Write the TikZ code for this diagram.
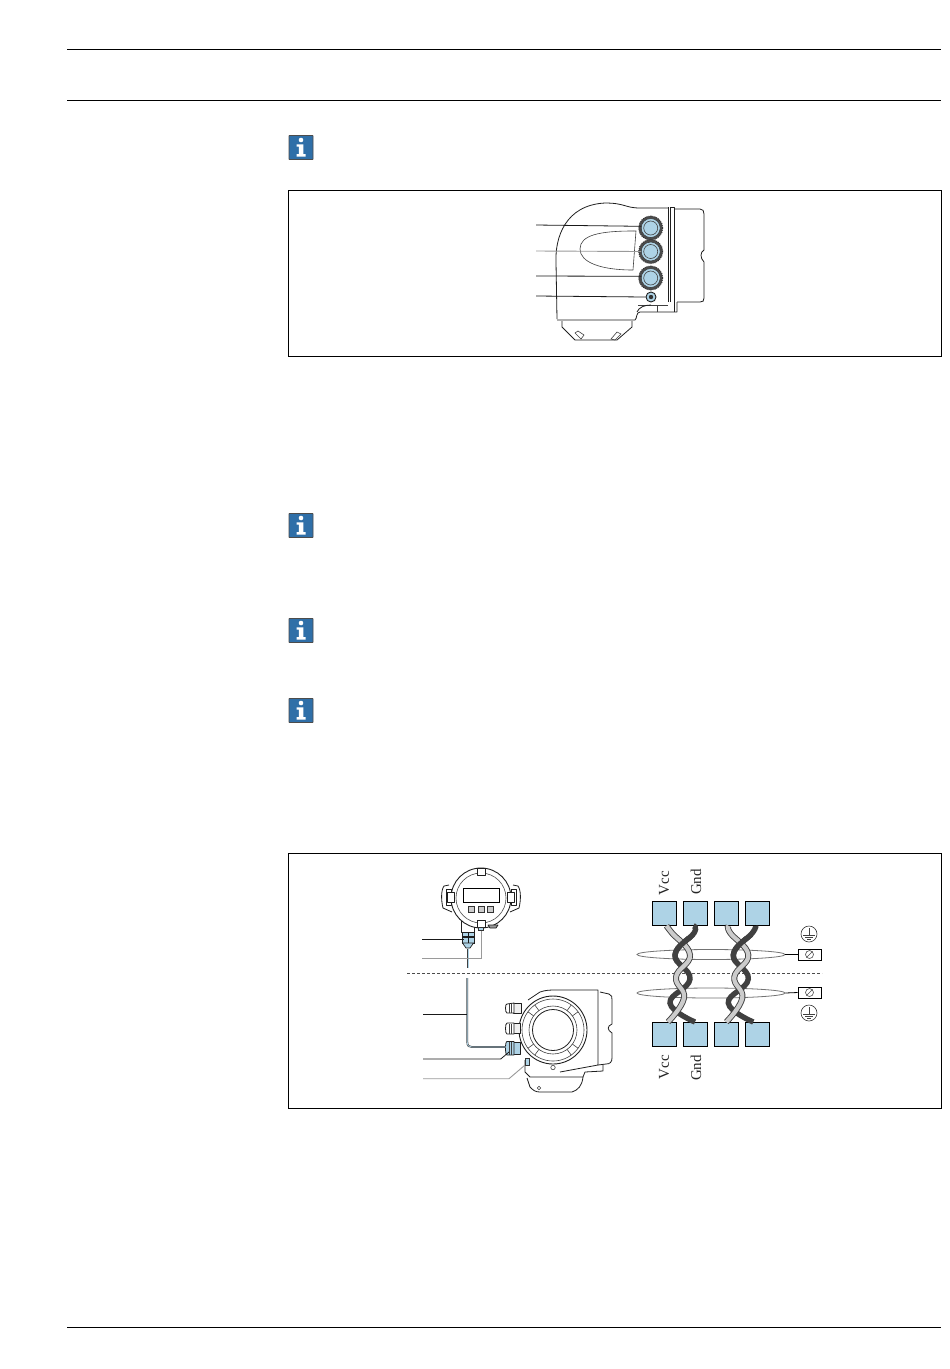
\documentclass[tikz,border=0pt]{standalone}
\usepackage{fontspec}
\setmainfont{Liberation Serif}
\usetikzlibrary{shapes.geometric,calc}
\definecolor{termblue}{HTML}{AED3E6}
\definecolor{iconblue}{HTML}{2F6FA8}
\definecolor{gl}{HTML}{9A9A9A}
\tikzset{
  rule/.style={line width=0.9pt,black},
  frame/.style={draw=black,line width=0.7pt,fill=white},
  part/.style={draw=black!88,line width=0.8pt,line join=round},
  thin part/.style={draw=black!75,line width=0.6pt},
  leader/.style={draw=black!90,line width=0.8pt},
  leadergray/.style={draw=gl,line width=0.9pt},
  blue part/.style={draw=black!88,fill=termblue,line width=0.7pt},
  terminal/.style={draw=black,fill=termblue,line width=1pt,minimum width=24pt,minimum height=24pt,inner sep=0pt},
  glandouter/.style={circle,draw=black!80,densely dotted,line width=1pt,fill=black!70,minimum size=24pt,inner sep=0pt},
  glandinner/.style={circle,draw=black!80,fill=termblue,line width=0.5pt,minimum size=19pt,inner sep=0pt},
  glandcore/.style={circle,draw=black!75,line width=0.6pt,minimum size=14pt,inner sep=0pt},
  darkwire/.style={draw=black!75,line width=5.4pt,line cap=butt},
  lightouter/.style={draw=black!75,line width=6pt},
  lightinner/.style={draw=black!20,line width=4.2pt},
  sig/.style={font=\fontsize{15}{15}\selectfont,text=black!85,rotate=90,inner sep=0pt},
  clamp/.style={draw=black,fill=white,line width=0.8pt,minimum width=23pt,minimum height=11pt,inner sep=0pt},
  earthring/.style={circle,draw=black!80,line width=0.6pt,minimum size=16pt,inner sep=0pt},
  shieldring/.style={ellipse,draw=black!55,line width=0.8pt,minimum width=148pt,minimum height=10pt,inner sep=0pt},
}
\newcommand{\infoicon}[2]{%
  \node[draw=black!70,fill=iconblue,line width=0.8pt,minimum size=24pt,inner sep=0pt,rounded corners=0.5pt] (#1) at (301,#2) {};
  \fill[white] (301,#2-7.5) circle (2.3);
  \fill[white] (296.5,#2-3.2) -- (303.3,#2-3.2) -- (303.3,#2+6.5) -- (305.5,#2+6.5) -- (305.5,#2+9) -- (296.5,#2+9) -- (296.5,#2+6.5) -- (298.9,#2+6.5) -- (298.9,#2-0.8) -- (296.5,#2-0.8) -- cycle;
}
\newcommand{\twistpair}[3]{%
  \draw[darkwire] plot[smooth,tension=0.75] coordinates {([xshift=-2pt]#2.south) (#3+694,933) (#3+675,955) (#3+690,979) (#3+670,1003) (#3+695,1022)};
  \draw[lightouter] plot[smooth,tension=0.75] coordinates {([xshift=2pt]#1.south) (#3+672,933) (#3+690,955) (#3+676,977) (#3+684,998) (#3+668,1022)};
  \draw[lightinner] plot[smooth,tension=0.75] coordinates {([xshift=2pt]#1.south) (#3+672,933) (#3+690,955) (#3+676,977) (#3+684,998) (#3+668,1022)};
  \begin{scope}
    \clip (#3+660,936) rectangle (#3+705,962);
    \draw[darkwire] plot[smooth,tension=0.75] coordinates {([xshift=-2pt]#2.south) (#3+694,933) (#3+675,955) (#3+690,979) (#3+670,1003) (#3+695,1022)};
  \end{scope}
}
\newcommand{\earthsym}[3]{%
  \node[earthring] (#1) at (#2,#3) {};
  \draw[thin part] (#2,#3-6) -- (#2,#3+1) (#2-6,#3+1) -- (#2+6,#3+1) (#2-4,#3+3.2) -- (#2+4,#3+3.2) (#2-2,#3+5.4) -- (#2+2,#3+5.4);
}
\begin{document}
\begin{tikzpicture}[x=1pt,y=-1pt]
\useasboundingbox (0,0) rectangle (950,1369);
\fill[white] (0,0) rectangle (950,1369);
% page rules
\coordinate (ra) at (67,49.5); \coordinate (rb) at (941,49.5);
\coordinate (rc) at (67,100); \coordinate (rd) at (941,100);
\coordinate (re) at (67,1327); \coordinate (rf) at (941,1327);
\draw[rule] (ra) -- (rb); \draw[rule] (rc) -- (rd); \draw[rule] (re) -- (rf);
% info icons
\infoicon{ia}{147.5}
\infoicon{ib}{525.5}
\infoicon{ic}{630.5}
\infoicon{id}{710.5}
% frames
\path[frame] (288.5,190.5) rectangle (941.5,356.5);
\path[frame] (288.5,853.5) rectangle (941.5,1108.5);

% ---------- upper figure ----------
\path[part] (557,319) -- (556,262) .. controls (555,238) and (565,205) .. (605,203) .. controls (625,203) and (625,208) .. (640,208) -- (668,208);
\path[part] (668,207) -- (668,302) (670,207) -- (670,302);
\path[part] (670,207) -- (674,207) -- (674,312);
\path[part] (675,209) -- (700,209) .. controls (703,209) and (704,211) .. (704,214) -- (704,250) .. controls (700,252) and (700,258) .. (704,262) -- (704,298) .. controls (704,301) and (703,302) .. (700,302) -- (677,302);
\path[part] (677,302) -- (677,312) -- (640,312) .. controls (636,312) and (637,319) .. (635,320) -- (557,320);
\path[thin part] (638,305) -- (668,305) (657,305) -- (657,312);
\path[part] (637,312) .. controls (639,307) and (645,305) .. (651,305);
\path[part] (562,321) -- (562,327) -- (575,340) -- (617,340) -- (632,327) -- (632,321);
\path[thin part] (575,333) -- (581,339) -- (584,335) -- (578,331) -- cycle (617,332) -- (611,339) -- (615,340) -- (621,334) -- cycle;
\path[thin part] (633,231) .. controls (600,231) and (580,235) .. (580,249) .. controls (580,262) and (600,270) .. (633,270);
\path[thin part] (633,231) -- (636,231) -- (633,270);
% glands
\node[glandouter] (g1o) at (650.7,228) {};
\node[glandinner] (g1) at (650.7,228) {};
\node[glandcore] at (650.7,228) {};
\node[glandouter] (g2o) at (650.7,251.5) {};
\node[glandinner] (g2) at (650.7,251.5) {};
\node[glandcore] at (650.7,251.5) {};
\node[glandouter] (g3o) at (650.7,278) {};
\node[glandinner] (g3) at (650.7,278) {};
\node[glandcore] at (650.7,278) {};
\node[blue part,circle,minimum size=10pt,inner sep=0pt,line width=0.9pt] (g4) at (651,297) {};
\fill[black!80] (651,297) circle (2.2);
\coordinate (la1) at (536,225); \coordinate (la2) at (536,251);
\coordinate (la3) at (536,276); \coordinate (la4) at (536,296);
\draw[leader] (la1) -- (g1.170);
\draw[leadergray] (la2) -- (g2.180);
\draw[leader] (la3) -- (g3.170);
\draw[leader] (la4) -- (g4.west);

% ---------- remote display ----------
\path[part] (449,885) -- (444,886) .. controls (441,890) and (441,900) .. (443,908) -- (452,912);
\path[part] (446,889) -- (451,889) -- (451,905) -- (446,905) -- cycle;
\path[part] (513,885) -- (518,886) .. controls (521,890) and (521,900) .. (519,908) -- (510,912);
\path[part] (516,889) -- (511,889) -- (511,905) -- (516,905) -- cycle;
\path[part] (461.5,921) -- (461.5,932) -- (474.5,932) -- (474.5,925);
\node[circle,draw=black!88,fill=white,line width=0.9pt,minimum size=60pt,inner sep=0pt] (disp) at (481,898) {};
\node[circle,draw=black!70,line width=0.6pt,minimum size=50pt,inner sep=0pt] (dispin) at (481,898) {};
\foreach \tx/\ty in {481/871.5}{\path[part,fill=white] (\tx-4,\ty-3.5) rectangle (\tx+4,\ty+3.5);}
\foreach \tx/\ty in {451/897,511/897}{\path[part,fill=white] (\tx-3.5,\ty-5) rectangle (\tx+3.5,\ty+5);}
\path[part,fill=white] (477,920) rectangle (485,927);
\node[draw=black,line width=0.9pt,fill=white,minimum width=36pt,minimum height=14pt,inner sep=0pt] (lcd) at (481,895) {};
\foreach \bx in {471.7,481,490.3}{\node[draw=black!80,fill=black!20,line width=0.5pt,minimum size=6pt,inner sep=0pt] at (\bx,909) {};}
\path[blue part] (462,932) rectangle (474,936) (462,937) rectangle (474,943);
\path[draw=black!90,line width=1pt] (468,932) -- (468,943);
\path[blue part] (462.5,943) -- (473.5,943) -- (470,948) -- (466,948) -- cycle;
\node[draw=black!80,fill=termblue,line width=0.5pt,minimum width=5pt,minimum height=3pt,inner sep=0pt] (tiny) at (481,929) {};
\path[part,fill=black!40] (488,925) -- (498,925) -- (496,928) -- (490,928) -- cycle;
\node[inner sep=0pt,minimum size=1pt] (caba) at (468.3,948) {};
\coordinate (cabb) at (468.3,968);
\draw[black!75,line width=1.8pt] (caba) -- (cabb);
\draw[termblue,line width=0.7pt] (caba) -- (cabb);
\coordinate (lb1) at (422,939); \coordinate (lb2) at (422,958.7); \coordinate (lb2k) at (481,958.7);
\node[inner sep=0pt,minimum size=1pt] (lb1e) at (465,939) {};
\draw[leader,line width=1pt] (lb1) -- (lb1e);
\draw[leadergray] (lb2) -- (lb2k) -- (tiny.south);

% dashed separator
\coordinate (sa) at (407,973); \coordinate (sb) at (822,973);
\draw[black!70,densely dashed,line width=0.6pt] (sa) -- (sb);

% ---------- transmitter ----------
\path[part] (528,1000) -- (540,992) .. controls (546,990) and (550,990) .. (556,990) -- (598,990) -- (598,1065) -- (560,1072);
\path[part] (600,992) -- (609,994) .. controls (612,995) and (612,997) .. (612,1000) -- (612,1024) .. controls (607,1026) and (607,1030) .. (612,1033) -- (612,1058) .. controls (612,1062) and (610,1064) .. (606,1064) -- (598,1065);
\path[part] (603,1065) -- (603,1071) -- (585,1072) -- (583,1077) -- (530,1077) -- (525,1072) -- (525,1060);
\path[part] (527,1078) -- (530,1087) .. controls (533,1090) and (535,1092) .. (540,1092) -- (572,1092) .. controls (578,1090) and (582,1086) .. (583,1077);
\draw[thin part] (539,1088) circle (1.8);
\draw[thin part] (553,1067.5) circle (2.2);
\node[circle,draw=black!88,fill=white,line width=0.9pt,minimum size=68pt,inner sep=0pt] (tr) at (553,1030) {};
\node[circle,draw=black!75,line width=0.6pt,minimum size=62pt,inner sep=0pt] at (553,1030) {};
\node[circle,draw=black!75,line width=0.6pt,minimum size=48pt,inner sep=0pt] at (553,1030) {};
\node[circle,draw=black!88,line width=0.8pt,minimum size=41pt,inner sep=0pt] at (553,1030) {};
\foreach \a in {45,135,225,315}{\path[thin part] ($(553,1030)+(\a-9:24)$) -- ($(553,1030)+(\a-9:31)$) ($(553,1030)+(\a+9:24)$) -- ($(553,1030)+(\a+9:31)$);}
% cable glands
\path[part,fill=black!6] (513,1003) rectangle (521,1013);
\path[part,fill=white] (507,1004) .. controls (505,1003) and (505,1013) .. (507,1013) -- (514,1013) -- (514,1003) -- cycle;
\path[part,fill=black!6] (513,1023) rectangle (520,1033);
\path[part,fill=white] (507,1023) .. controls (505,1023) and (505,1034) .. (507,1034) -- (514,1034) -- (514,1023) -- cycle;
\path[part,fill=termblue] (513,1042) rectangle (520,1054);
\path[part,fill=termblue] (507,1041.5) .. controls (505,1041) and (505,1055) .. (507,1055) -- (514,1055) -- (514,1041.5) -- cycle;
\foreach \rx in {509,511}{\path[thin part] (\rx,1004) -- (\rx,1013) (\rx,1023.5) -- (\rx,1034) (\rx,1042) -- (\rx,1055);}
\node[inner sep=0pt,minimum size=1pt] (gb) at (506.5,1047) {};
\node[draw=black!80,fill=termblue,line width=0.5pt,minimum width=4pt,minimum height=7pt,inner sep=0pt] (gr) at (527,1061.5) {};
\coordinate (cabc) at (467.3,978); \coordinate (cabk) at (467.3,1014);
\draw[black!75,line width=1.8pt,line join=round] (cabc) -- (467.3,1042) .. controls (467.3,1046) and (469,1047) .. (472,1047) -- (gb);
\draw[termblue,line width=0.7pt] (cabc) -- (467.3,1042) .. controls (467.3,1046) and (469,1047) .. (472,1047) -- (gb);
\coordinate (lc1) at (423,1014); \coordinate (lc2) at (423,1059); \coordinate (lc2k) at (500.7,1059); \coordinate (lc2e) at (509,1052);
\coordinate (lc3) at (423,1078.7); \coordinate (lc3k) at (509,1078.7);
\draw[leader] (lc1) -- (cabk);
\draw[leader] (lc2) -- (lc2k) -- (lc2e);
\draw[leadergray] (lc3) -- (lc3k) -- (gr.south west);

% ---------- wiring scheme ----------
\node[shieldring] (sh1) at (711,954.5) {};
\node[shieldring] (sh2) at (711,993) {};
\node[terminal] (t1) at (664.5,913.3) {};
\node[terminal] (t2) at (695.5,913.3) {};
\node[terminal] (t3) at (726.5,913.3) {};
\node[terminal] (t4) at (757.5,913.3) {};
\node[terminal] (t5) at (664.5,1034.3) {};
\node[terminal] (t6) at (695.5,1034.3) {};
\node[terminal] (t7) at (726.5,1034.3) {};
\node[terminal] (t8) at (757.5,1034.3) {};
\twistpair{t1}{t2}{0}
\twistpair{t3}{t4}{58.3}
\node[sig,anchor=center] (v1) at (664,883) {Vcc};
\node[sig,anchor=center] (g1t) at (696,882) {Gnd};
\node[sig,anchor=center] (v2) at (664,1067) {Vcc};
\node[sig,anchor=center] (g2t) at (696,1068) {Gnd};
\node[clamp] (c1) at (809.5,954.5) {};
\node[clamp] (c2) at (809.5,992.5) {};
\draw[black,line width=0.8pt] (sh1.east) -- (c1.west);
\draw[black,line width=0.8pt] (sh2.east) -- (c2.west);
\foreach \cy in {954.5,992.5}{
  \draw[black!70,line width=0.6pt] (809.5,\cy) circle (4);
  \draw[black!70,line width=0.6pt] (806.5,\cy+3) -- (812.5,\cy-3);
}
\earthsym{e1}{809}{934}
\earthsym{e2}{809}{1013}
\end{tikzpicture}
\end{document}
